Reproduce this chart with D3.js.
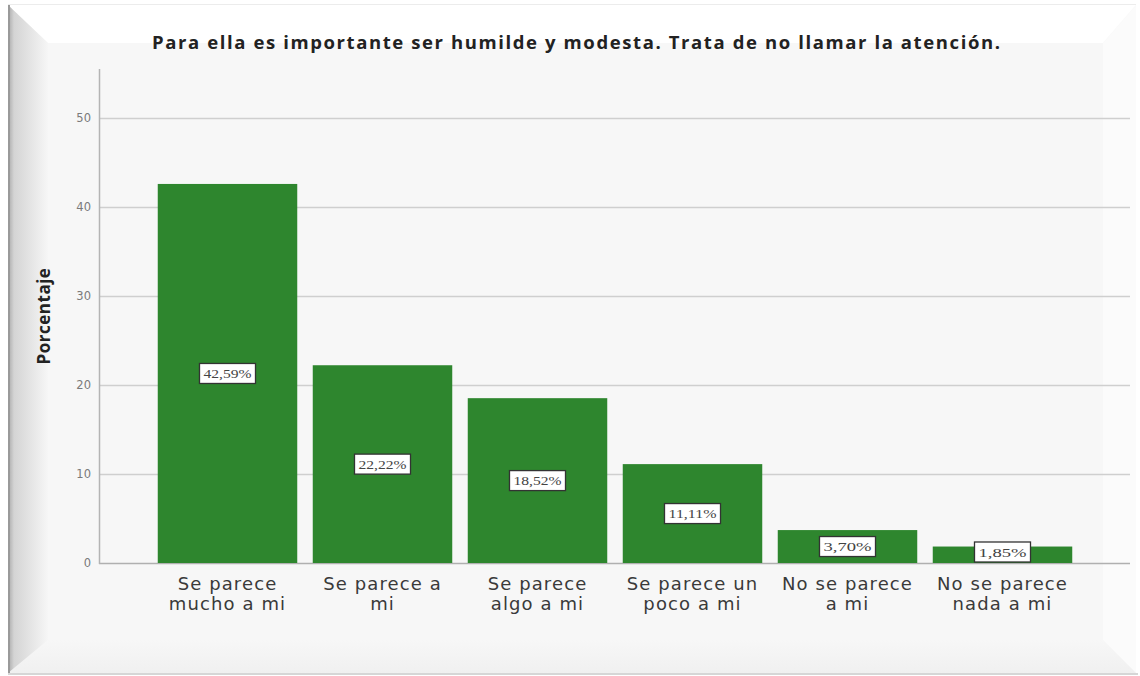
<!DOCTYPE html>
<html><head><meta charset="utf-8">
<script src="https://cdn.jsdelivr.net/npm/d3@7"></script>
<style>body{margin:0;background:#fff}svg{display:block}</style>
</head><body>
<svg id="c" width="1140" height="676"></svg>
<script>
const categories = [["Se parece","mucho a mi"],["Se parece a","mi"],["Se parece","algo a mi"],["Se parece un","poco a mi"],["No se parece","a mi"],["No se parece","nada a mi"]];
const values = [42.59, 22.22, 18.52, 11.11, 3.70, 1.85];
const valueLabels = ["42,59%","22,22%","18,52%","11,11%","3,70%","1,85%"];
const yTicks = [0,10,20,30,40,50];
const title = "Para ella es importante ser humilde y modesta. Trata de no llamar la atención.";
const yTitle = "Porcentaje";

const svg = d3.select("#c");
const defs = svg.append("defs");
const gl = defs.append("linearGradient").attr("id","gl").attr("x1","0").attr("x2","1").attr("y1","0").attr("y2","0");
gl.append("stop").attr("offset","0").attr("stop-color","#a9a9a9");
gl.append("stop").attr("offset","0.15").attr("stop-color","#d4d4d4");
gl.append("stop").attr("offset","1").attr("stop-color","#f6f6f6");
const gb = defs.append("linearGradient").attr("id","gb").attr("x1","0").attr("x2","0").attr("y1","0").attr("y2","1");
gb.append("stop").attr("offset","0").attr("stop-color","#f7f7f7");
gb.append("stop").attr("offset","1").attr("stop-color","#f0f0f0");

// frame
const L=8,T=5,R=1136,B=673,iL=48,iT=43,iR=1103,iB=640;
svg.append("rect").attr("x",L).attr("y",T).attr("width",R-L).attr("height",B-T).attr("fill","#f7f7f7");
svg.append("polygon").attr("points",`${L},${T} ${R},${T} ${iR},${iT} ${iL},${iT}`).attr("fill","#ffffff");
svg.append("polygon").attr("points",`${R},${T} ${R},${B} ${iR},${iB} ${iR},${iT}`).attr("fill","#fbfbfb");
svg.append("polygon").attr("points",`${L},${B} ${R},${B} ${iR},${iB} ${iL},${iB}`).attr("fill","url(#gb)");
svg.append("polygon").attr("points",`${L},${T} ${iL},${iT} ${iL},${iB} ${L},${B}`).attr("fill","url(#gl)");
svg.append("line").attr("x1",L).attr("x2",R).attr("y1",T-0.5).attr("y2",T-0.5).attr("stroke","#ececec");
svg.append("line").attr("x1",L).attr("x2",R+2).attr("y1",B+1).attr("y2",B+1).attr("stroke","#c8c8c8").attr("stroke-width",1.5);
svg.append("line").attr("x1",L+1).attr("x2",L+1).attr("y1",T).attr("y2",B).attr("stroke","#9a9a9a").attr("stroke-width",2);

const y = d3.scaleLinear().domain([0,50]).range([563,118]);
const x = d3.scaleBand().domain(d3.range(values.length)).range([150,1080]).paddingInner(0.1).paddingOuter(0.05);

// grid
svg.append("g").selectAll("line").data(yTicks).join("line")
  .attr("x1",99).attr("x2",1130).attr("y1",d=>y(d)+0.5).attr("y2",d=>y(d)+0.5)
  .attr("stroke",d=>d===0?"#b0b0b0":"#cfcfcf").attr("stroke-width",1.3);
// y axis line
svg.append("line").attr("x1",99.5).attr("x2",99.5).attr("y1",69).attr("y2",564).attr("stroke","#b4b4b4").attr("stroke-width",1.5);
// tick labels
svg.append("g").selectAll("text").data(yTicks).join("text")
  .attr("x",91).attr("y",d=>y(d)+4).attr("text-anchor","end")
  .attr("font-family","DejaVu Sans").attr("font-size",11.5).attr("fill","#7a7a7a").text(d=>d);

// bars
svg.append("g").selectAll("rect").data(values).join("rect")
  .attr("x",(d,i)=>x(i)).attr("width",x.bandwidth())
  .attr("y",d=>y(d)).attr("height",d=>y(0)-y(d)).attr("fill","#2e862e");

// value labels
const lg = svg.append("g").selectAll("g").data(values).join("g")
  .attr("transform",(d,i)=>{
    let cy=(y(d)+y(0))/2; cy=Math.min(cy,y(0)-11);
    return `translate(${x(i)+x.bandwidth()/2},${cy})`;});
lg.append("rect").attr("x",-28).attr("y",-10).attr("width",56).attr("height",20)
  .attr("fill","#ffffff").attr("stroke","#333").attr("stroke-width",1.3);
lg.append("text").attr("text-anchor","middle").attr("y",4.5)
  .attr("font-family","Liberation Serif").attr("font-size",12.5).attr("fill","#444")
  .attr("textLength",48).attr("lengthAdjust","spacingAndGlyphs")
  .text((d,i)=>valueLabels[i]);

// x labels
const xl = svg.append("g").selectAll("text").data(categories).join("text")
  .attr("x",(d,i)=>x(i)+x.bandwidth()/2).attr("text-anchor","middle")
  .attr("font-family","DejaVu Sans").attr("font-size",18).attr("letter-spacing",1.1).attr("fill","#3a3a3a");
xl.each(function(d,i){
  const t=d3.select(this);
  d.forEach((line,k)=>t.append("tspan").attr("x",x(i)+x.bandwidth()/2).attr("y",590+k*20).text(line));
});

// title
svg.append("text").attr("x",576).attr("y",49).attr("text-anchor","middle")
  .attr("font-family","Open Sans").attr("font-weight","bold").attr("font-size",18.5).attr("fill","#222")
  .attr("textLength",848).attr("lengthAdjust","spacing").text(title);
// y title
svg.append("text").attr("transform","translate(50,316) rotate(-90)").attr("text-anchor","middle")
  .attr("font-family","Open Sans").attr("font-weight","bold").attr("font-size",17).attr("letter-spacing",0.5).attr("fill","#222")
  .text(yTitle);
</script>
</body></html>
